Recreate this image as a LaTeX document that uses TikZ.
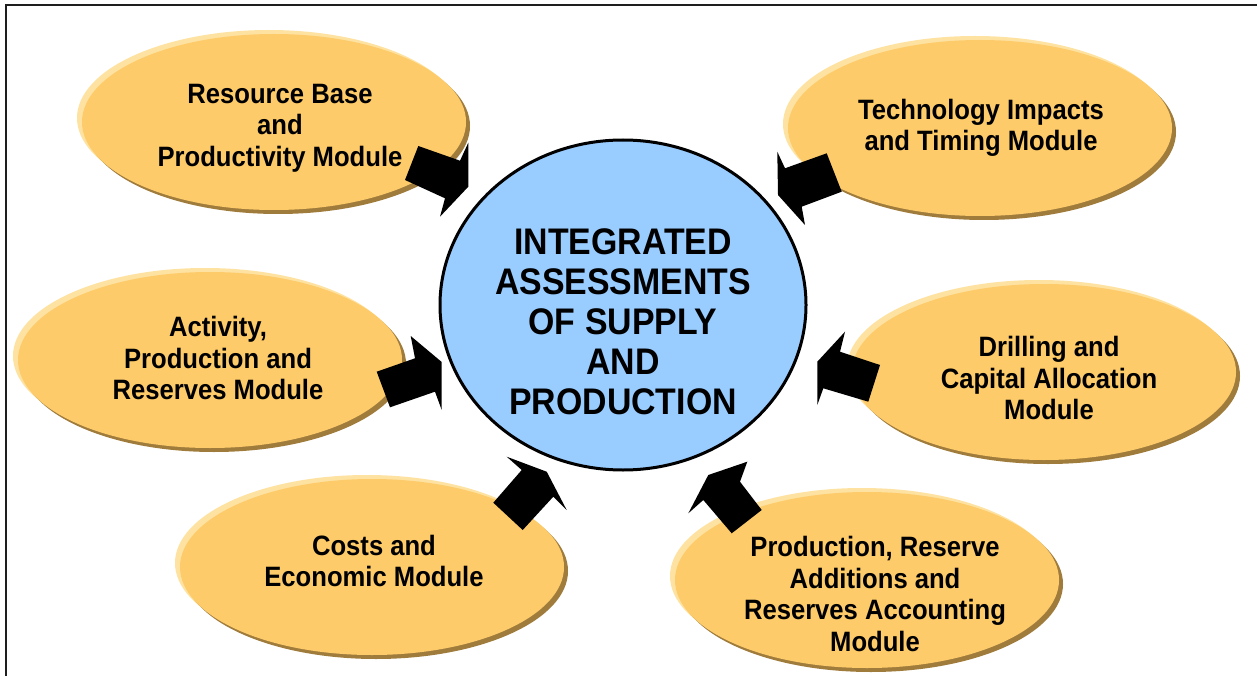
\documentclass[tikz,border=0pt]{standalone}
\usepackage{fontspec}
\newfontfamily\modfont[FakeStretch=0.915]{Liberation Sans}
\usetikzlibrary{shapes.geometric}
\definecolor{modfill}{RGB}{253,203,106}
\definecolor{modhi}{RGB}{254,226,162}
\definecolor{modsh}{RGB}{160,124,60}
\definecolor{hubfill}{RGB}{153,204,255}
\definecolor{framec}{RGB}{30,30,30}
\tikzset{
  modbox/.style={ellipse, minimum width=384pt, minimum height=176pt, inner sep=0pt, fill=modfill},
  modhilite/.style={fill=modhi},
  modshadow/.style={fill=modsh},
  modtext/.style={align=center, inner sep=0pt, font=\modfont\bfseries\fontsize{28}{31.5}\selectfont},
  hub/.style={ellipse, minimum width=366pt, minimum height=330pt, inner sep=0pt, fill=hubfill, draw=black, line width=3pt},
  hubtext/.style={align=center, inner sep=0pt, font=\modfont\bfseries\fontsize{37}{40}\selectfont},
  blockarrow/.style={fill=black},
  framestyle/.style={draw=framec, line width=2pt}
}
\begin{document}
\begin{tikzpicture}[x=1pt,y=-1pt]
\useasboundingbox (0,0) rectangle (1257,676);
% frame
\coordinate (fbl) at (6,676);
\coordinate (ftl) at (6,5);
\coordinate (ftr) at (1257,5);
\draw[framestyle] (fbl) -- (ftl) -- (ftr);

% module ellipses: highlight, shadow, body
\foreach \n/\x/\y in {1/274/122, 2/980/128, 3/210/360, 4/1044/372, 5/372/567, 6/867/580}{
  \fill[modhilite] (\x-5,\y-4) ellipse [x radius=192pt, y radius=88pt];
  \fill[modshadow] (\x+4,\y+4) ellipse [x radius=192pt, y radius=88pt];
  \node[modbox] (m\n) at (\x,\y) {};
}

% hub
\node[hub] (hub) at (623,305) {};
\node[hubtext] (hubt) at (623,322) {INTEGRATED\\ASSESSMENTS\\OF SUPPLY\\AND\\PRODUCTION};

% module texts
\node[modtext] (t1) at (280,128) {Resource Base\\and\\Productivity Module};
\node[modtext] (t2) at (981,128) {Technology Impacts\\and Timing Module};
\node[modtext] (t3) at (218,358) {Activity,\\Production and\\Reserves Module};
\node[modtext] (t4) at (1049,378) {Drilling and\\Capital Allocation\\Module};
\node[modtext] (t5) at (374,561) {Costs and\\Economic Module};
\node[modtext] (t6) at (875,594) {Production, Reserve\\Additions and\\Reserves Accounting\\Module};

% block arrows
\fill[blockarrow] (418.3,146) -- (460,160.7) -- (468.3,142.7) -- (468.3,186.7) -- (440,216.7) -- (445,198.3) -- (405,180) -- cycle;
\fill[blockarrow] (826.7,153.3) -- (785,168.3) -- (777.3,151.7) -- (778,195) -- (805,225) -- (801.7,206.7) -- (841.7,191.7) -- cycle;
\fill[blockarrow] (376.7,371.7) -- (415,358.3) -- (410.7,336) -- (441.7,362) -- (441.7,410) -- (435,391.7) -- (390,407.3) -- cycle;
\fill[blockarrow] (880,365) -- (840,351.7) -- (845,331.7) -- (817.3,361.7) -- (817.3,405) -- (823.3,388.3) -- (868.3,401.7) -- cycle;
\fill[blockarrow] (493.3,502.7) -- (521.7,470) -- (506.7,456.7) -- (546.7,471.7) -- (566.7,510) -- (553.3,496.7) -- (522.7,530) -- cycle;
\fill[blockarrow] (731.7,533.3) -- (703.3,500) -- (688.3,513.3) -- (708.3,475) -- (747.3,461.7) -- (740,481.7) -- (761.7,510) -- cycle;
\end{tikzpicture}
\end{document}
